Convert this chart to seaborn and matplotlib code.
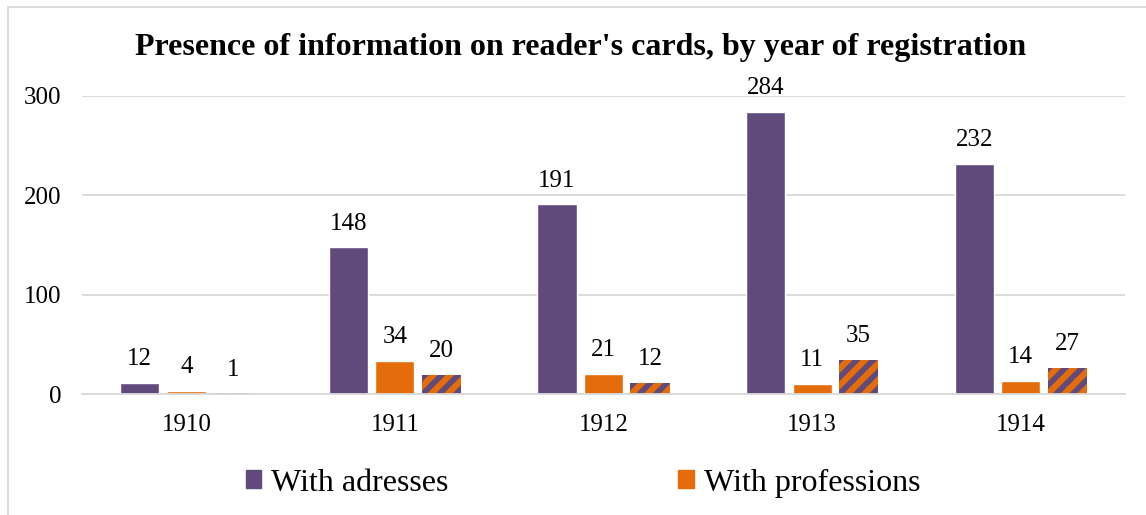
import matplotlib
matplotlib.use("Agg")
from matplotlib import pyplot as plt
from matplotlib.patches import Rectangle
import seaborn as sns
import pandas as pd

years = ["1910", "1911", "1912", "1913", "1914"]
with_adresses = [12, 148, 191, 284, 232]
with_professions = [4, 34, 21, 11, 14]
with_both = [1, 20, 12, 35, 27]
series = ["With adresses", "With professions", "With both"]

purple = "#604A7B"
orange = "#E46C0A"

df = pd.DataFrame({
    "year": years * 3,
    "value": with_adresses + with_professions + with_both,
    "series": [series[0]] * 5 + [series[1]] * 5 + [series[2]] * 5,
})

sns.set_theme(style="white")
plt.rcParams["font.family"] = ["Liberation Serif", "DejaVu Serif"]
plt.rcParams["text.color"] = "black"
plt.rcParams["xtick.color"] = "black"
plt.rcParams["ytick.color"] = "black"
plt.rcParams["hatch.linewidth"] = 4.0

fig = plt.figure(figsize=(11.46, 5.15), dpi=100)
ax = fig.add_axes([82 / 1146, 0.234, 1043 / 1146, 0.5796])

sns.barplot(data=df, x="year", y="value", hue="series",
            palette=[purple, orange, orange], saturation=1,
            width=0.669, gap=0.16, ax=ax, legend=False)

# third series: orange with purple diagonal stripes
for bar in ax.containers[2]:
    bar.set_hatch("//")
    bar.set_edgecolor(purple)
    bar.set_linewidth(0)

for cont in ax.containers:
    ax.bar_label(cont, padding=9, fontsize=18, clip_on=False)

ax.set_ylim(0, 300)
ax.set_yticks([0, 100, 200, 300])
ax.set_xlim(-0.5, 4.5)
ax.yaxis.grid(True, color="#D9D9D9", linewidth=1.3)
ax.set_axisbelow(True)
for s in ["top", "right", "left"]:
    ax.spines[s].set_visible(False)
ax.spines["bottom"].set_color("#D9D9D9")
ax.spines["bottom"].set_linewidth(1.3)
ax.tick_params(axis="both", length=0, labelsize=18)
ax.tick_params(axis="x", pad=14)
ax.tick_params(axis="y", pad=15)
ax.set_xlabel("")
ax.set_ylabel("")

fig.suptitle("Presence of information on reader's cards, by year of registration",
             x=581 / 1146, y=0.908, fontsize=23, fontweight="bold", va="center")

handles = [Rectangle((0, 0), 1, 1, color=purple), Rectangle((0, 0), 1, 1, color=orange)]
fig.legend(handles, series[:2], loc="center", bbox_to_anchor=(583 / 1146, 1 - 483 / 515),
           ncol=2, frameon=False, fontsize=23, handlelength=0.5, handleheight=0.5,
           handletextpad=0.3, columnspacing=7.2)

# chart frame (cut off at right and bottom)
fig.patches.append(Rectangle((8 / 1146, -0.1), 1.2, 1 - 7 / 515 + 0.1,
                             transform=fig.transFigure, fill=False,
                             edgecolor="#D9D9D9", linewidth=1.3))

fig.savefig("out.png", dpi=100)
